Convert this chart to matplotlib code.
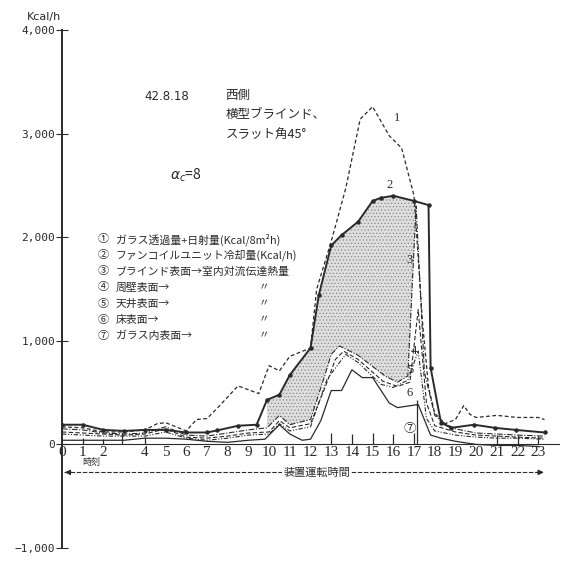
import numpy as np
import matplotlib
matplotlib.use("Agg")
import matplotlib.pyplot as plt

plt.rcParams["font.family"] = ["Noto Sans CJK JP", "DejaVu Sans"]
plt.rcParams["hatch.linewidth"] = 0.5

# hour tick labels (3 is missing in the original)
hour_ticks = [0, 1, 2, 4, 5, 6, 7, 8, 9, 10, 11, 12, 13, 14, 15, 16, 17,
              18, 19, 20, 21, 22, 23]

# (1) glass transmission + absorption
x1 = [0, 1, 2, 3, 4, 4.6, 5, 5.5, 6, 6.5, 7, 7.5, 8.5, 9.5, 10, 10.5, 11, 12,
      12.3, 13, 13.7, 14.4, 15, 15.8, 16.4, 17, 17.4, 17.7, 18, 18.5, 19,
      19.4, 19.7, 20, 21, 22, 23, 23.3]
y1 = [170, 160, 120, 120, 140, 200, 210, 170, 130, 240, 250, 350, 565, 490,
      760, 710, 850, 930, 1500, 1960, 2470, 3140, 3260, 2980, 2860, 2400,
      1200, 550, 300, 200, 240, 375, 290, 260, 280, 260, 260, 240]

# (2) fan coil unit cooling load
x2 = [0, 1, 2, 3, 4, 5, 6, 7, 7.5, 8.5, 9.4, 9.9, 10.5, 11, 12, 12.4, 13,
      13.5, 14.3, 15, 15.4, 16, 17, 17.7, 17.8, 18.3, 18.8, 19.9, 20.9, 21.9,
      23.3]
y2 = [190, 190, 140, 130, 140, 140, 115, 115, 135, 180, 190, 430, 480, 670,
      930, 1440, 1920, 2020, 2150, 2350, 2380, 2400, 2350, 2310, 740, 210,
      160, 190, 160, 140, 115]

# (3) blind surface -> room
x3 = [0, 1, 2, 3, 4, 5, 6, 7, 8, 9, 9.9, 10.5, 11, 12, 12.7, 13, 13.4, 14.3,
      15.6, 16.2, 16.7, 17.1, 17.5, 18, 18.5, 19, 20, 21, 22, 23.3]
y3 = [150, 140, 110, 100, 110, 170, 90, 80, 110, 140, 160, 280, 190, 240,
      670, 870, 950, 860, 660, 600, 660, 2300, 700, 280, 200, 150, 110, 100,
      90, 80]

# (4) perimeter wall surface
x4 = [0, 1, 2, 3, 4, 5, 6, 7, 8, 9, 10, 10.5, 11, 12, 12.8, 13.2, 13.6, 14.3,
      15.5, 16.2, 16.8, 17.2, 17.6, 18, 19, 20, 21, 22, 23.3]
y4 = [120, 110, 100, 90, 100, 150, 70, 60, 80, 110, 120, 230, 160, 200, 600,
      820, 900, 820, 610, 560, 600, 1300, 400, 180, 120, 90, 80, 70, 60]

# (5) ceiling surface
x5 = [0, 1, 2, 3, 4, 5, 6, 7, 8, 9, 10, 10.5, 11, 12, 12.8, 13.7, 14.3, 15.4,
      16, 16.7, 17.2, 17.6, 18, 19, 20, 21, 22, 23.3]
y5 = [100, 90, 80, 80, 80, 120, 60, 40, 60, 90, 100, 200, 130, 170, 630, 870,
      790, 580, 550, 620, 900, 250, 130, 90, 70, 60, 60, 50]

# (6) floor surface
x6 = [0, 1, 2, 3, 4, 5, 6, 7, 8, 9, 9.8, 10.5, 11, 11.6, 12, 12.5, 13, 13.5,
      14, 14.5, 15, 15.8, 16.2, 17.2, 17.8, 18.3, 19, 20, 21, 22, 23]
y6 = [40, 40, 40, 40, 60, 60, 50, 30, 20, 40, 50, 190, 100, 40, 50, 230, 520,
      520, 720, 645, 645, 400, 355, 385, 90, 60, 30, 0, -10, -10, -20]

# (7) glass inner surface (drawn as short bars)
x7 = [1, 2, 2.9, 4, 13, 14, 15, 16, 17, 17.15, 21, 22, 23]
y7 = [60, 50, 110, 70, 110, 100, 110, 100, 110, 430, 90, 90, 80]

legend_lines = [
    ("①", "ガラス透過量+日射量(Kcal/8m²h)", ""),
    ("②", "ファンコイルユニット冷却量(Kcal/h)", ""),
    ("③", "ブラインド表面→室内対流伝達熱量", ""),
    ("④", "周壁表面→", "〃"),
    ("⑤", "天井表面→", "〃"),
    ("⑥", "床表面→", "〃"),
    ("⑦", "ガラス内表面→", "〃"),
]

ink = "#2a2a2a"

fig = plt.figure(figsize=(5.65, 5.62), dpi=100)
ax = fig.add_axes([62 / 565, 14 / 562, 497 / 565, 518 / 562])
ax.set_xlim(0, 24.0)
ax.set_ylim(-1000, 4000)

# shaded band between curve 2 and curve 3
xs = np.union1d(x2, x3)
xs = xs[(xs >= 9.9) & (xs <= 17.1)]
ax.fill_between(xs, np.interp(xs, x3, y3), np.interp(xs, x2, y2),
                facecolor="#dedede", hatch=".....", edgecolor="#8a8a8a",
                linewidth=0)

ax.plot(x1, y1, color=ink, lw=0.9, ls=(0, (3, 2)))
ax.plot(x2, y2, color=ink, lw=1.4, marker="o", ms=2.2)
ax.plot(x3, y3, color=ink, lw=0.8, ls=(0, (5, 1.5, 1, 1.5)))
ax.plot(x4, y4, color=ink, lw=0.8, ls=(0, (4, 2)))
ax.plot(x5, y5, color=ink, lw=0.8, ls=(0, (4, 1.5, 1, 1.5, 1, 1.5)))
ax.plot(x6, y6, color=ink, lw=0.9)
ax.vlines(x7, 0, y7, color=ink, lw=0.9)

# curve labels
for lbl, lx, ly in [("1", 16.2, 3150), ("2", 15.8, 2500), ("3", 16.8, 1780),
                    ("4", 17.0, 900), ("5", 16.8, 720), ("6", 16.8, 500),
                    ("⑦", 16.8, 150)]:
    ax.text(lx, ly, lbl, fontsize=9, color=ink, ha="center", va="center",
            family=["Liberation Serif", "Noto Sans CJK JP"])

# axes styling
for s in ["top", "right"]:
    ax.spines[s].set_visible(False)
ax.spines["bottom"].set_position(("data", 0))
ax.spines["bottom"].set_linewidth(0.8)
ax.spines["left"].set_linewidth(1.4)
ax.spines["bottom"].set_color(ink)
ax.spines["left"].set_color(ink)

ax.set_xticks(hour_ticks)
ax.set_xticklabels([str(h) for h in hour_ticks],
                   family="Liberation Serif", fontsize=11, color=ink)
ax.tick_params(axis="x", length=0, pad=1)

yt = [-1000, 0, 1000, 2000, 3000, 4000]
ax.set_yticks(yt)
ax.set_yticklabels(["−1,000", "0", "1,000", "2,000", "3,000", "4,000"],
                   family="DejaVu Sans Mono", fontsize=8, color=ink)
ax.tick_params(axis="y", direction="inout", length=8, width=0.8, pad=1,
               color=ink)

fig.text(27 / 565, 1 - 17 / 562, "Kcal/h", fontsize=8, color=ink,
         family="DejaVu Sans", va="center")

# header notes
ax.text(4.0, 3360, "42.8.18", fontsize=8.5, color=ink, family="DejaVu Sans",
        va="center")
ax.text(7.9, 3370, "西側", fontsize=9, color=ink, va="center")
ax.text(7.9, 3180, "横型ブラインド、", fontsize=9, color=ink, va="center")
ax.text(7.9, 2990, "スラット角45°", fontsize=9, color=ink, va="center")
ax.text(5.2, 2600, r"$\alpha_c$=8", fontsize=10, color=ink, va="center")

# legend block
leg_y = [1980, 1825, 1670, 1515, 1360, 1205, 1050]
for (num, txt, ditto), ly in zip(legend_lines, leg_y):
    ax.text(1.7, ly, num, fontsize=8, color=ink, va="center")
    ax.text(2.6, ly, txt, fontsize=7.8, color=ink, va="center")
    if ditto:
        ax.text(9.5, ly, ditto, fontsize=7.5, color=ink, va="center")

# operating-time arrow
ax.plot([0.1, 23.2], [-270, -270], color=ink, lw=0.8, ls=(0, (4, 1.5)))
ax.annotate("", xy=(23.4, -270), xytext=(22.8, -270),
            arrowprops=dict(arrowstyle="-|>", color=ink, lw=0.8,
                            mutation_scale=8))
ax.annotate("", xy=(0.0, -270), xytext=(0.6, -270),
            arrowprops=dict(arrowstyle="-|>", color=ink, lw=0.8,
                            mutation_scale=8))
ax.text(12.3, -270, "装置運転時間", fontsize=8, color=ink, ha="center",
        va="center", bbox=dict(facecolor="white", edgecolor="none", pad=1))
ax.text(1.4, -175, "時刻", fontsize=6.5, color=ink, ha="center",
        va="center")

fig.savefig("out.png", dpi=100)
